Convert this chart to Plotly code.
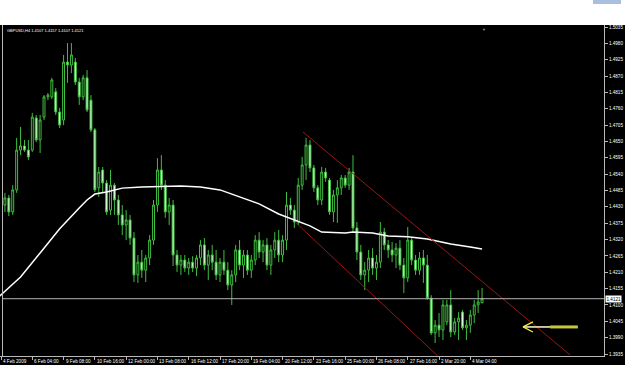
import plotly.graph_objects as go

# ---------------- data ----------------
bars = list(range(1, 124))
opens = [1.4436,1.4460,1.4413,1.4487,1.4621,1.4635,1.4621,1.4621,1.4729,1.4655,
         1.4732,1.4800,1.4800,1.4817,1.4749,1.4722,1.4917,1.4907,1.4917,1.4850,
         1.4800,1.4864,1.4789,1.4689,1.4494,1.4554,1.4510,1.4419,1.4503,1.4453,
         1.4403,1.4369,1.4386,1.4325,1.4201,1.4244,1.4217,1.4258,1.4318,1.4436,
         1.4554,1.4503,1.4413,1.4436,1.4268,1.4234,1.4251,1.4224,1.4244,1.4224,
         1.4258,1.4302,1.4234,1.4268,1.4244,1.4201,1.4244,1.4217,1.4167,1.4201,
         1.4285,1.4234,1.4268,1.4217,1.4251,1.4318,1.4278,1.4302,1.4234,1.4285,
         1.4318,1.4268,1.4318,1.4436,1.4419,1.4379,1.4503,1.4571,1.4638,1.4561,
         1.4494,1.4453,1.4547,1.4520,1.4413,1.4470,1.4494,1.4527,1.4503,1.4547,
         1.4359,1.4278,1.4201,1.4217,1.4258,1.4224,1.4244,1.4345,1.4302,1.4285,
         1.4268,1.4291,1.4234,1.4191,1.4318,1.4251,1.4217,1.4258,1.4234,1.4123,
         1.4006,1.4032,1.4016,1.4043,1.4100,1.4009,1.4043,1.4076,1.4023,1.4032,
         1.4066,1.4100,1.4107]
highs = [1.4477,1.4470,1.4503,1.4662,1.4699,1.4655,1.4655,1.4746,1.4739,1.4739,
         1.4806,1.4813,1.4864,1.4830,1.4763,1.4941,1.4981,1.4981,1.4931,1.4864,
         1.4874,1.4890,1.4806,1.4695,1.4564,1.4564,1.4520,1.4554,1.4510,1.4470,
         1.4436,1.4419,1.4403,1.4345,1.4268,1.4285,1.4268,1.4335,1.4453,1.4594,
         1.4604,1.4520,1.4460,1.4453,1.4285,1.4268,1.4268,1.4258,1.4264,1.4268,
         1.4318,1.4325,1.4285,1.4302,1.4285,1.4258,1.4285,1.4244,1.4217,1.4302,
         1.4318,1.4285,1.4285,1.4268,1.4335,1.4345,1.4318,1.4325,1.4302,1.4345,
         1.4352,1.4335,1.4480,1.4460,1.4436,1.4527,1.4598,1.4662,1.4655,1.4571,
         1.4503,1.4564,1.4561,1.4527,1.4487,1.4520,1.4537,1.4537,1.4561,1.4604,
         1.4379,1.4302,1.4244,1.4285,1.4291,1.4268,1.4379,1.4359,1.4318,1.4312,
         1.4308,1.4318,1.4258,1.4362,1.4325,1.4268,1.4278,1.4285,1.4268,1.4133,
         1.4049,1.4073,1.4117,1.4117,1.4150,1.4056,1.4076,1.4083,1.4049,1.4083,
         1.4117,1.4150,1.4157]
lows = [1.4413,1.4399,1.4403,1.4477,1.4604,1.4615,1.4588,1.4615,1.4648,1.4611,
        1.4722,1.4789,1.4793,1.4739,1.4695,1.4705,1.4847,1.4880,1.4840,1.4773,
        1.4789,1.4749,1.4682,1.4480,1.4463,1.4477,1.4403,1.4403,1.4403,1.4369,
        1.4335,1.4318,1.4302,1.4177,1.4174,1.4191,1.4177,1.4234,1.4302,1.4413,
        1.4487,1.4393,1.4369,1.4231,1.4211,1.4201,1.4211,1.4201,1.4211,1.4197,
        1.4234,1.4217,1.4184,1.4217,1.4184,1.4177,1.4201,1.4150,1.4100,1.4177,
        1.4217,1.4191,1.4201,1.4191,1.4234,1.4258,1.4244,1.4217,1.4201,1.4258,
        1.4244,1.4244,1.4285,1.4403,1.4359,1.4369,1.4487,1.4520,1.4547,1.4480,
        1.4436,1.4436,1.4514,1.4403,1.4379,1.4376,1.4470,1.4494,1.4487,1.4345,
        1.4251,1.4184,1.4150,1.4177,1.4201,1.4184,1.4224,1.4285,1.4258,1.4244,
        1.4224,1.4217,1.4140,1.4177,1.4234,1.4201,1.4201,1.4174,1.4117,1.3999,
        1.3972,1.3992,1.3982,1.4032,1.3992,1.3999,1.3982,1.4016,1.3982,1.4006,
        1.4039,1.4073,1.4107]
closes = [1.4460,1.4413,1.4487,1.4621,1.4635,1.4621,1.4598,1.4732,1.4655,1.4722,
          1.4800,1.4806,1.4857,1.4749,1.4705,1.4917,1.4907,1.4941,1.4850,1.4800,
          1.4864,1.4756,1.4689,1.4487,1.4547,1.4510,1.4413,1.4503,1.4453,1.4403,
          1.4369,1.4386,1.4325,1.4201,1.4244,1.4217,1.4258,1.4318,1.4436,1.4554,
          1.4503,1.4413,1.4436,1.4268,1.4234,1.4251,1.4224,1.4244,1.4224,1.4258,
          1.4302,1.4234,1.4268,1.4244,1.4201,1.4244,1.4217,1.4167,1.4201,1.4285,
          1.4234,1.4268,1.4217,1.4251,1.4318,1.4278,1.4302,1.4234,1.4285,1.4318,
          1.4268,1.4318,1.4436,1.4419,1.4379,1.4503,1.4571,1.4638,1.4561,1.4494,
          1.4453,1.4547,1.4527,1.4413,1.4470,1.4494,1.4527,1.4503,1.4547,1.4359,
          1.4278,1.4201,1.4217,1.4258,1.4224,1.4244,1.4345,1.4302,1.4285,1.4268,
          1.4291,1.4234,1.4191,1.4318,1.4251,1.4217,1.4258,1.4234,1.4123,1.4006,
          1.4032,1.4016,1.4100,1.4100,1.4009,1.4043,1.4056,1.4023,1.4032,1.4066,
          1.4100,1.4110,1.4121]

# moving average, read at points along the line
ma_bars = [-0.3, 5, 10, 15, 20, 22, 24, 27, 31, 36, 46, 51, 56, 61, 66, 71, 75, 79,
           82, 88, 90, 95, 99, 104, 109, 115, 120, 123]
ma_vals = [1.4130, 1.4194, 1.4275, 1.4356, 1.4426, 1.4453, 1.4473, 1.4480, 1.4493,
           1.4497, 1.4500, 1.4497, 1.4487, 1.4463, 1.4440, 1.4406, 1.4386, 1.4366,
           1.4345, 1.4342, 1.4345, 1.4342, 1.4332, 1.4329, 1.4322, 1.4305, 1.4295, 1.4288]

# trend channel
chan_up_bars = [77.2, 145.5]
chan_up_vals = [1.4682, 1.3932]
chan_lo_bars = [75.2, 111.7]
chan_lo_vals = [1.4379, 1.3928]

# arrow object
arrow_head_bar, arrow_head_val = 133.5, 1.4026
arrow_arm_bar = 136.0
arrow_arm_vals = [1.4043, 1.4009]
arrow_mid_bar = 140.4
arrow_tail_bar = 147.5

current_price = 1.4121
title_text = "GBPUSD,H4 1.4107 1.4157 1.4107 1.4121"

x_tick_vals = list(range(0, 121, 8))
x_tick_text = ["4 Feb 2009", "6 Feb 04:00", "9 Feb 08:00", "10 Feb 16:00", "12 Feb 00:00",
               "13 Feb 08:00", "16 Feb 12:00", "17 Feb 20:00", "19 Feb 04:00",
               "20 Feb 12:00", "23 Feb 16:00", "25 Feb 00:00", "26 Feb 08:00",
               "27 Feb 16:00", "2 Mar 20:00", "4 Mar 04:00"]
y_tick_vals = [round(1.5035 - 0.0055 * k, 4) for k in range(21)]
y_tick_text = ["%.4f" % v for v in y_tick_vals]

# ---------------- figure ----------------
W, H = 625, 391
ML, MR, MT, MB = 0, 21, 25, 35
pw, ph = W - ML - MR, H - MT - MB

FONT = "Liberation Sans"
TICK_SIZE = 4.6
GREEN = "#3fbf3f"

fig = go.Figure()

fig.add_trace(go.Candlestick(
    x=bars, open=opens, high=highs, low=lows, close=closes,
    increasing=dict(line=dict(color=GREEN, width=1), fillcolor="#000000"),
    decreasing=dict(line=dict(color=GREEN, width=1), fillcolor="#e4ffe4"),
    whiskerwidth=0, showlegend=False, hoverinfo="skip"))

fig.add_trace(go.Scatter(x=ma_bars, y=ma_vals, mode="lines",
                         line=dict(color="#ffffff", width=1.5), showlegend=False, hoverinfo="skip"))

RED = "#9a1515"
fig.add_trace(go.Scatter(x=chan_up_bars, y=chan_up_vals, mode="lines",
                         line=dict(color=RED, width=1), showlegend=False, hoverinfo="skip"))
fig.add_trace(go.Scatter(x=chan_lo_bars, y=chan_lo_vals, mode="lines",
                         line=dict(color=RED, width=1), showlegend=False, hoverinfo="skip"))

# arrow
fig.add_trace(go.Scatter(x=[arrow_mid_bar, arrow_tail_bar], y=[arrow_head_val, arrow_head_val],
                         mode="lines", line=dict(color="#c8c83a", width=3),
                         showlegend=False, hoverinfo="skip"))
fig.add_trace(go.Scatter(x=[arrow_head_bar, arrow_mid_bar], y=[arrow_head_val, arrow_head_val],
                         mode="lines", line=dict(color="#ffffc8", width=1.5),
                         showlegend=False, hoverinfo="skip"))
fig.add_trace(go.Scatter(x=[arrow_arm_bar, arrow_head_bar, arrow_arm_bar],
                         y=[arrow_arm_vals[0], arrow_head_val, arrow_arm_vals[1]],
                         mode="lines", line=dict(color="#f0f040", width=1.3),
                         showlegend=False, hoverinfo="skip"))

x0 = -1 / 3.911
x1 = (pw - 1) / 3.911
y_per_px = 0.0055 / 16.35
ytop = 1.5035 + 2 * y_per_px
ybot = 1.3935 - 2 * y_per_px

shapes = [
    dict(type="rect", xref="paper", yref="paper", x0=-0.01, x1=W / pw + 0.01,
         y0=-(365 - (H - MB)) / ph, y1=1.0,
         fillcolor="#000000", line=dict(width=0), layer="below"),
    dict(type="rect", xref="paper", yref="paper", x0=593 / pw, x1=621 / pw,
         y0=1 + 21 / ph, y1=1 + 25 / ph, fillcolor="#a8c0dc", line=dict(width=0)),
    dict(type="line", xref="paper", yref="paper", x0=2.5 / pw, x1=2.5 / pw, y0=0, y1=1,
         line=dict(color="#b8b8b8", width=1)),
    dict(type="line", xref="paper", yref="y", x0=0.004, x1=1, y0=current_price, y1=current_price,
         line=dict(color="#b4b4b4", width=1)),
]

annotations = [
    dict(text=title_text, xref="paper", yref="paper", x=5 / pw, y=1, xanchor="left",
         yanchor="top", yshift=-1, showarrow=False, font=dict(family=FONT, size=4, color="#ffffff")),
    dict(text="%.4f" % current_price, xref="paper", yref="y", x=1, y=current_price,
         xanchor="left", yanchor="middle", xshift=1, showarrow=False, bgcolor="#ffffff",
         borderpad=0.5, font=dict(family=FONT, size=TICK_SIZE, color="#000000")),
    dict(text="\u25BC", xref="x", yref="paper", x=bars[-1] + 0.5, y=1, yanchor="top",
         showarrow=False, font=dict(size=4, color="#9a9a9a")),
]
for tv, tt in zip(x_tick_vals, x_tick_text):
    annotations.append(dict(text=tt, xref="x", yref="paper", x=tv, y=0, xanchor="left",
                            yanchor="top", xshift=0, yshift=-1, showarrow=False,
                            font=dict(family=FONT, size=TICK_SIZE, color="#ffffff")))

fig.update_layout(
    width=W, height=H, margin=dict(l=ML, r=MR, t=MT, b=MB, pad=0),
    paper_bgcolor="#ffffff", plot_bgcolor="#000000",
    shapes=shapes, annotations=annotations,
    xaxis=dict(range=[x0, x1], showgrid=False, zeroline=False, rangeslider=dict(visible=False),
               showline=True, linecolor="#b8b8b8", linewidth=1, ticks="outside", ticklen=3,
               tickcolor="#b8b8b8", tickvals=x_tick_vals, showticklabels=False),
    yaxis=dict(range=[ybot, ytop], side="right", showgrid=False, zeroline=False,
               showline=True, linecolor="#b8b8b8", linewidth=1, ticks="outside", ticklen=3,
               tickcolor="#b8b8b8", tickvals=y_tick_vals, ticktext=y_tick_text,
               tickfont=dict(family=FONT, size=TICK_SIZE, color="#ffffff")),
)

fig.write_html("out.html")
